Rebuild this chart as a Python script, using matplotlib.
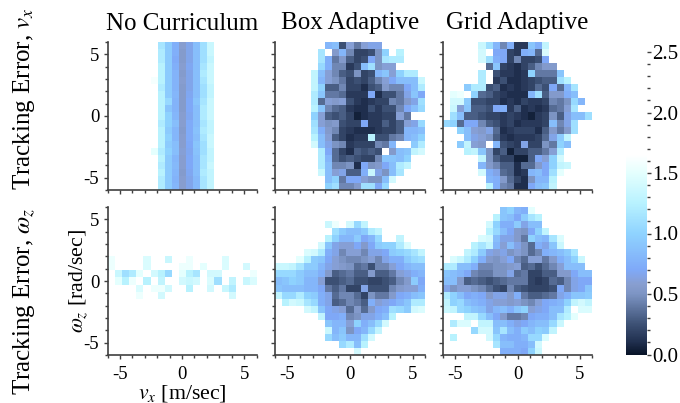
import numpy as np
import matplotlib
matplotlib.use("Agg")
import matplotlib.pyplot as plt
from matplotlib.colors import LinearSegmentedColormap, Normalize
from matplotlib.ticker import MultipleLocator

_ = np.nan

titles = ["No Curriculum", "Box Adaptive", "Grid Adaptive"]
row_labels = ["Tracking Error, $v_x$", "Tracking Error, $\\omega_z$"]
xlabel = "$v_x$ [m/sec]"
ylabel = "$\\omega_z$ [rad/sec]"
tick_values = [-5, 0, 5]
cbar_ticks = [0.0, 0.5, 1.0, 1.5, 2.0, 2.5]

none_vx = [
 [_,_,_,_,_,_,_,1.15,.95,.75,.58,.66,.85,1.1,1.35,_,_,_,_,_,_],
 [_,_,_,_,_,_,_,1.2,.95,.75,.56,.66,.85,1.1,1.35,_,_,_,_,_,_],
 [_,_,_,_,_,_,_,1.2,.95,.72,.56,.66,.85,1.1,1.3,_,_,_,_,_,_],
 [_,_,_,_,_,_,_,1.25,.95,.75,.58,.68,.85,1.15,1.35,_,_,_,_,_,_],
 [_,_,_,_,_,_,_,1.25,.95,.78,.56,.66,.85,1.2,1.35,_,_,_,_,_,_],
 [_,_,_,_,_,_,1.6,1.25,.95,.78,.58,.66,.85,1.15,1.35,_,_,_,_,_,_],
 [_,_,_,_,_,_,_,1.2,.95,.78,.56,.66,.85,1.1,1.3,_,_,_,_,_,_],
 [_,_,_,_,_,_,_,1.25,.95,.8,.56,.68,.85,1.1,1.3,_,_,_,_,_,_],
 [_,_,_,_,_,_,_,1.25,1.05,.78,.56,.7,.9,1.15,1.35,_,_,_,_,_,_],
 [_,_,_,_,_,_,_,1.25,.9,.78,.56,.7,.85,1.2,1.35,_,_,_,_,_,_],
 [_,_,_,_,_,_,_,1.25,1.0,.8,.58,.68,.85,1.2,1.35,_,_,_,_,_,_],
 [_,_,_,_,_,_,_,1.2,1.0,.85,.58,.72,.85,1.15,1.3,_,_,_,_,_,_],
 [_,_,_,_,_,_,_,1.25,.95,.8,.56,.72,.88,1.2,1.3,_,_,_,_,_,_],
 [_,_,_,_,_,_,_,1.25,1.0,.8,.58,.72,.85,1.15,1.35,_,_,_,_,_,_],
 [_,_,_,_,_,_,_,1.25,.95,.85,.58,.7,.9,1.1,1.35,_,_,_,_,_,_],
 [_,_,_,_,_,_,1.5,1.2,1.0,.85,.6,.68,.88,1.1,1.3,_,_,_,_,_,_],
 [_,_,_,_,_,_,_,1.25,.95,.8,.58,.7,.85,1.15,1.3,_,_,_,_,_,_],
 [_,_,_,_,_,_,_,1.2,.95,.82,.58,.7,.85,1.15,1.35,_,_,_,_,_,_],
 [_,_,_,_,_,_,_,1.25,.95,.8,.56,.68,.85,1.2,1.3,_,_,_,_,_,_],
 [_,_,_,_,_,_,_,1.2,.95,.78,.58,.66,.82,1.15,1.3,_,_,_,_,_,_],
 [_,_,_,_,_,_,_,1.2,.95,.8,.58,.66,.82,1.15,1.3,_,_,_,_,_,_],
]

box_vx = [
 [_,_,_,_,_,_,_,.8,.85,.25,.6,.4,.6,.65,.65,_,_,_,_,_,_],
 [_,_,_,_,_,_,1.15,_,.55,.8,.45,.2,.2,.25,.5,1.0,_,1.25,_,_,_],
 [_,_,_,_,_,_,1.15,.75,.4,.55,.3,.2,.25,.7,.5,1.15,1.2,1.2,_,_,_],
 [_,_,_,_,_,_,1.05,.75,.45,.45,.15,.25,.85,1.1,.5,.6,.6,_,_,_,_],
 [_,_,_,_,_,1.3,.85,.6,.45,.3,.25,.5,.2,.25,.8,.9,.6,1.0,1.2,1.2,_],
 [_,_,_,_,_,1.3,.8,.6,.5,.4,.2,.25,.2,.3,.45,.6,.7,.85,.85,.85,1.35],
 [_,_,_,_,_,1.3,1.0,.3,.3,.45,.2,.2,.1,.25,.3,.55,.45,.45,.7,.85,1.2],
 [_,_,_,_,_,1.2,.9,.4,.4,.35,.15,.15,.15,.7,.1,.25,.25,.4,.65,.9,.7],
 [_,_,_,_,_,1.2,.35,.6,.55,.6,.25,.15,.1,.15,.2,.2,.45,.4,.55,.65,1.1],
 [_,_,_,_,_,1.25,.9,.45,.35,.3,.15,.1,.1,.25,.15,.25,.25,.45,.7,.85,1.05],
 [_,_,_,_,_,1.0,.6,.3,.25,.3,.2,.05,.1,.15,.15,.2,.2,.6,.4,_,_],
 [_,_,_,_,_,1.1,.6,.5,.55,.25,.2,.2,.7,.15,.15,.3,.2,.3,.6,.65,1.05],
 [_,_,_,_,_,1.15,.75,.55,.45,.2,.15,.1,.1,.1,.15,.2,.2,.3,.8,.8,.85],
 [_,_,_,_,_,1.25,.85,.6,.3,.2,.1,.15,.15,1.25,.25,.25,.4,.45,.8,.85,1.0],
 [_,_,_,_,_,1.4,.85,.65,.5,.45,.15,.2,.2,.2,.45,.4,.8,_,_,.95,1.2],
 [_,_,_,_,_,_,1.2,.7,.35,.2,.1,.3,.25,.3,.25,_,.55,.85,.9,1.3,1.4],
 [_,_,_,_,_,_,1.2,.8,.35,.25,.3,.25,.2,.2,.45,.9,.9,.85,1.0,_,_],
 [_,_,_,_,_,_,1.2,.85,.45,.45,.5,.1,.7,.5,.55,.7,.85,1.2,1.3,_,_],
 [_,_,_,_,_,_,1.35,.85,.6,.65,.3,.3,.75,1.35,.65,.5,.85,1.15,_,_,_],
 [_,_,_,_,_,_,_,.85,1.0,.4,.7,.7,.6,.5,.5,.85,1.4,_,_,_,_],
 [_,_,_,_,_,_,_,1.0,1.1,.45,.45,.55,1.1,1.1,.7,1.05,_,_,_,_,_],
]

grid_vx = [
 [_,_,_,_,_,1.35,1.1,.8,.45,.75,.15,.15,.9,.75,1.3,_,_,_,_,_,_],
 [_,_,_,_,_,1.4,_,.7,.7,.2,.15,.75,.8,.35,1.45,_,_,_,_,_,_],
 [_,_,_,_,_,1.4,1.1,.75,.7,.2,.45,.2,.2,.25,.7,_,_,_,_,_,_],
 [_,_,_,_,_,_,.35,.9,.2,.15,.1,.2,.3,.45,.55,.55,_,_,_,_,_],
 [_,_,_,_,_,1.2,_,.25,.15,.15,.1,.15,1.0,.4,.4,.4,.9,_,_,_,_],
 [_,_,_,_,_,1.2,_,.15,.25,.1,.1,.15,.2,.25,.3,.3,1.1,1.25,_,_,_],
 [_,_,_,.95,1.2,1.2,.25,.3,.1,.15,.1,.15,.2,.35,.25,.7,.35,.8,1.15,_,_],
 [_,1.5,1.55,_,1.0,.35,.3,.2,.15,.1,.1,.1,.8,1.1,.3,.55,.55,.75,.85,_,_],
 [_,1.4,1.4,.95,.25,.25,.2,.2,.1,.15,.1,.2,.15,.15,.2,.45,.4,.5,1.05,.8,_],
 [_,1.35,.6,.9,.3,.3,.25,.7,.75,.15,.3,.1,.15,.1,.15,.35,.4,.6,1.15,_,_],
 [_,1.1,.85,.3,.3,.25,.2,.2,.15,.2,.15,.1,.05,.15,.2,.5,.3,.65,.85,.85,1.1],
 [1.05,1.0,.35,.7,.7,.45,.3,.25,.15,.2,.1,.15,.15,.15,.2,.85,.45,.65,1.1,_,_],
 [_,_,1.0,.85,.6,.55,.65,.35,.1,.15,.2,.2,.2,.1,.3,.55,.4,.55,1.1,_,_],
 [_,_,_,.85,.65,.6,.5,.3,.15,.1,.15,.15,.15,.2,.35,.65,.95,1.3,_,_,_],
 [_,_,.95,1.3,.6,.55,_,.8,.25,.2,.15,.65,.2,.2,.5,.4,1.0,.85,_,_,_],
 [_,_,_,1.25,1.3,.9,.5,.2,.3,.05,.2,.2,.3,.3,.4,.6,1.2,_,_,_,_],
 [_,_,_,_,_,1.3,.5,.3,.2,.2,.05,.05,.3,.7,.6,1.0,1.4,_,_,_,_],
 [_,_,_,_,_,.8,.55,.45,.3,.3,.1,.35,.35,.55,.7,1.0,1.3,1.35,_,_,_],
 [_,_,_,_,_,1.4,.75,.65,.35,.3,.1,.15,.8,.85,.7,1.1,1.5,_,_,_,_],
 [_,_,_,_,_,_,.8,.75,.55,.35,.2,.1,.5,.8,.8,1.25,_,_,_,_,_],
 [_,_,_,_,_,_,1.25,.75,.45,.4,.1,.1,.7,.85,.9,1.3,_,_,_,_,_],
]

none_wz = [
 [_]*21,
 [_]*21,
 [_]*21,
 [_]*21,
 [_]*21,
 [_]*21,
 [_]*21,
 [1.55,_,_,_,_,1.45,_,_,1.35,_,_,1.55,_,_,_,_,1.45,_,_,_,_],
 [1.55,_,_,_,_,1.45,_,_,_,_,1.55,1.55,_,1.5,_,_,1.45,_,_,1.4,_],
 [_,1.35,1.1,1.2,1.5,_,1.4,1.25,1.05,_,1.5,1.25,1.15,_,1.4,1.4,_,_,_,_,1.55],
 [_,1.5,1.25,1.55,_,1.25,_,1.3,_,_,1.4,1.35,1.4,_,1.45,1.1,_,1.3,_,1.35,1.45],
 [_,_,_,_,1.45,_,1.55,1.55,1.4,_,_,1.25,_,_,1.4,_,1.35,1.2,_,_,_],
 [_,_,_,_,1.55,_,_,1.4,_,_,_,_,_,_,_,_,_,1.4,_,_,_],
 [_]*21,
 [_]*21,
 [_]*21,
 [_]*21,
 [_]*21,
 [_]*21,
 [_]*21,
 [_]*21,
]

box_wz = [
 [_]*21,
 [_]*21,
 [_,_,_,_,_,_,_,1.35,1.55,_,1.4,1.05,1.3,_,_,_,_,_,_,_,_],
 [_,_,_,_,_,_,_,_,1.1,.95,.85,.85,.95,1.2,1.3,_,_,_,_,_,_],
 [_,_,_,_,_,_,_,1.25,1.0,.8,.8,.95,.7,.8,1.05,_,_,1.3,_,_,_],
 [_,_,_,_,_,_,1.4,.9,.65,.6,.6,.7,.55,.7,.95,1.0,1.0,1.2,1.45,_,_],
 [_,_,_,_,1.45,1.4,1.2,.75,.65,.45,.6,.6,.45,.65,.65,.7,.95,1.0,1.05,1.15,1.3],
 [_,_,_,1.5,1.25,.95,.9,.7,.6,.5,.45,.45,.5,.6,.45,.65,.75,.75,.95,1.05,1.1],
 [1.35,1.35,1.3,1.15,.95,.95,.8,.65,.6,.55,.5,.35,.4,.25,.45,.45,.6,.7,.8,.85,.85],
 [1.05,1.05,1.05,.95,.85,.85,.75,.55,.3,.35,.4,.3,.3,.55,.3,.3,.4,.6,.65,.75,.8],
 [.85,.9,1.0,.95,.8,.8,.6,.25,.25,.3,.35,.25,.25,.2,.2,.25,.3,.45,.55,.95,.7],
 [.9,.85,.85,.85,.8,.8,.7,.4,.3,.4,.2,.2,.65,.25,.25,.25,.45,.55,.6,.6,.75],
 [1.3,1.05,1.05,1.2,1.0,.95,.75,.65,.35,.45,.45,.35,.2,.5,.4,.4,.55,.7,.75,.85,.9],
 [_,1.25,1.4,1.35,1.15,1.05,.75,.65,.3,.35,.45,.4,.3,.75,.6,.65,.7,.8,.9,1.2,1.2],
 [_,_,_,_,1.4,1.3,.9,.7,.65,.6,.35,.55,.35,.55,.7,.75,1.1,1.05,.95,1.4,1.45],
 [_,_,_,_,_,_,1.3,.7,.7,.75,.45,.5,.65,.65,.75,.85,1.25,_,_,_,_],
 [_,_,_,_,_,_,_,.9,.8,.8,.6,1.0,.75,.85,1.05,1.4,_,_,_,_,_],
 [_,_,_,_,_,_,_,1.35,.8,.9,.5,.7,.8,1.05,1.3,_,_,_,_,_,_],
 [_,_,_,_,_,_,_,1.05,.85,.95,.8,.8,1.1,1.4,_,_,_,_,_,_,_],
 [_,_,_,_,_,_,_,_,_,1.05,1.2,.85,1.25,_,_,_,_,_,_,_,_],
 [_,_,_,_,_,_,_,_,_,_,_,1.4,_,_,_,_,_,_,_,_,_],
]

grid_wz = [
 [_,_,_,_,_,_,_,_,.9,1.0,.8,.75,1.5,_,_,_,_,_,_,_,_],
 [_,_,_,_,_,_,_,1.25,.9,.85,.7,.95,1.15,1.25,_,_,_,_,_,_,_],
 [_,_,_,_,_,_,1.4,1.0,.75,.75,.95,.65,.85,.85,_,_,_,_,_,_,_],
 [_,_,_,_,_,_,1.25,1.05,.85,.7,.55,.5,.7,1.0,1.3,_,_,_,_,_,_],
 [_,_,_,_,_,1.45,1.4,.85,.65,.65,.55,.4,1.0,.85,.8,1.15,1.45,_,_,_,_],
 [_,_,_,_,1.25,1.15,1.3,.8,.6,.85,.65,.5,.35,.75,.65,.9,1.35,_,_,_,_],
 [_,_,_,1.3,1.2,.95,.65,.6,.65,.5,.6,.5,.35,.45,.75,.8,.85,.95,1.15,_,_],
 [_,1.45,1.35,1.2,1.0,.75,.55,.5,.6,.7,.45,.35,.6,.6,.4,.55,.75,.85,1.0,1.35,_],
 [1.2,1.2,.85,.85,.75,.45,.45,.5,.5,.55,.6,.3,.35,.25,.35,.45,.6,.85,.85,.85,_],
 [.9,.85,.8,.7,.45,.4,.4,.5,.5,.65,.35,.4,.2,.2,.3,.3,.55,.55,.7,.85,.85],
 [.85,.85,.55,.3,.35,.3,.25,.3,.35,.4,.4,.4,.2,.15,.2,.35,.3,.45,.65,.7,.7],
 [.65,.5,.6,.6,.5,.45,.35,.25,.2,.45,.3,.25,.2,.2,.2,.25,.7,.45,.65,.7,.9],
 [1.2,1.0,.85,.7,.75,.7,.55,.65,.65,.55,.75,.4,.3,.3,.35,.4,.65,.75,.9,.9,.95],
 [1.3,1.0,1.05,.85,.8,.75,.65,.6,.6,.55,.6,.5,.45,.6,.7,.75,.8,1.0,1.3,1.4,1.3],
 [1.35,1.3,1.05,1.0,.9,.85,.65,.8,.85,.75,.9,1.0,.6,.65,.7,.85,.85,1.2,_,1.45,1.45],
 [_,_,_,1.3,1.3,1.05,.85,.7,.55,.4,.4,.45,.7,.75,.75,.85,1.15,1.25,1.5,_,_],
 [_,1.2,1.45,1.45,_,1.3,1.3,.85,.85,.75,.65,.7,.8,.85,.85,1.05,1.35,_,_,_,_],
 [_,_,_,_,1.05,1.4,1.4,.9,1.15,.85,.75,.95,.85,1.0,.95,1.3,_,_,_,_,_],
 [_,1.25,_,_,_,_,1.4,1.05,.8,.75,.75,.8,1.05,1.05,1.45,_,_,_,_,_,_],
 [_,_,_,_,_,_,_,1.15,.85,.85,.75,.75,.85,1.4,_,_,_,_,_,_,_],
 [_,_,_,_,_,_,_,_,.75,.75,.75,.7,1.0,1.35,_,_,_,_,_,_,_],
]

panels = [[none_vx, box_vx, grid_vx], [none_wz, box_wz, grid_wz]]
for row in panels:
    for mat in row:
        assert len(mat) == 21 and all(len(r) == 21 for r in mat)

plt.rcParams["font.family"] = "Liberation Serif"
plt.rcParams["mathtext.fontset"] = "stix"
SPINE = "#404040"

W, H = 680, 403
VMAX = 2.5
stops = [(0.0, "#081428"), (0.1, "#202f4e"), (0.25, "#3d5175"), (0.5, "#7d95c4"), (0.58, "#889ed0"),
         (0.7, "#7fa9f8"), (1.0, "#8fd3ff"), (1.25, "#b8f2ff"), (1.5, "#e4fffe"), (1.65, "#ffffff"),
         (2.5, "#ffffff")]
cmap = LinearSegmentedColormap.from_list("track", [(v / VMAX, c) for v, c in stops], N=512)
cmap.set_bad("white")
norm = Normalize(0, VMAX)


def rect(x0, y0, x1, y1):
    return [x0 / W, 1 - y1 / H, (x1 - x0) / W, (y1 - y0) / H]


xs = [(107.5, 256.5), (275, 425), (443, 592)]
ys = [(42, 190), (207, 355)]

fig = plt.figure(figsize=(W / 100, H / 100), dpi=100)
im = None
for r, (y0, y1) in enumerate(ys):
    for c, (x0, x1) in enumerate(xs):
        ax = fig.add_axes(rect(x0, y0, x1, y1))
        im = ax.imshow(np.array(panels[r][c]), extent=(-6, 6, -6, 6), origin="upper",
                       aspect="auto", cmap=cmap, norm=norm, interpolation="nearest")
        ax.set_xlim(-6, 6)
        ax.set_ylim(-6, 6)
        for s in ("top", "right"):
            ax.spines[s].set_visible(False)
        for s in ("left", "bottom"):
            ax.spines[s].set_color(SPINE)
            ax.spines[s].set_linewidth(1.2)
        ax.set_xticks(tick_values)
        ax.set_yticks(tick_values)
        ax.xaxis.set_minor_locator(MultipleLocator(1))
        ax.yaxis.set_minor_locator(MultipleLocator(1))
        ax.tick_params(which="major", length=3, width=1.0, color=SPINE, labelsize=13.5)
        ax.tick_params(axis="x", which="major", pad=5)
        ax.tick_params(axis="y", which="major", pad=3)
        ax.tick_params(which="minor", length=2, width=1.0, color=SPINE)
        ax.tick_params(labelbottom=(r == 1), labelleft=(c == 0))
        if r == 0:
            ax.set_title(titles[c], fontsize=18, pad=9)
        if c == 0:
            ax.set_yticklabels([str(t) for t in tick_values])
        if r == 1:
            ax.set_xticklabels([str(t) for t in tick_values])
        if r == 1 and c == 0:
            ax.set_xlabel(xlabel, fontsize=15.7, labelpad=0)
            ax.set_ylabel(ylabel, fontsize=15.7, labelpad=-5)

fig.text(24 / W, 1 - 98.5 / H, row_labels[0], rotation=90, fontsize=18, ha="center", va="center")
fig.text(24 / W, 1 - 301 / H, row_labels[1], rotation=90, fontsize=18, ha="center", va="center")

cax = fig.add_axes(rect(626, 52, 647, 354.5))
cb = fig.colorbar(im, cax=cax)
cb.outline.set_visible(False)
cb.set_ticks(cbar_ticks)
cb.set_ticklabels([f"{t:.1f}" for t in cbar_ticks])
cb.ax.yaxis.set_minor_locator(MultipleLocator(0.1))
cb.ax.tick_params(which="major", length=3, width=1.0, color=SPINE, labelsize=15, pad=1)
cb.ax.tick_params(which="minor", length=2, width=1.0, color=SPINE)

fig.savefig("out.png", dpi=100)
